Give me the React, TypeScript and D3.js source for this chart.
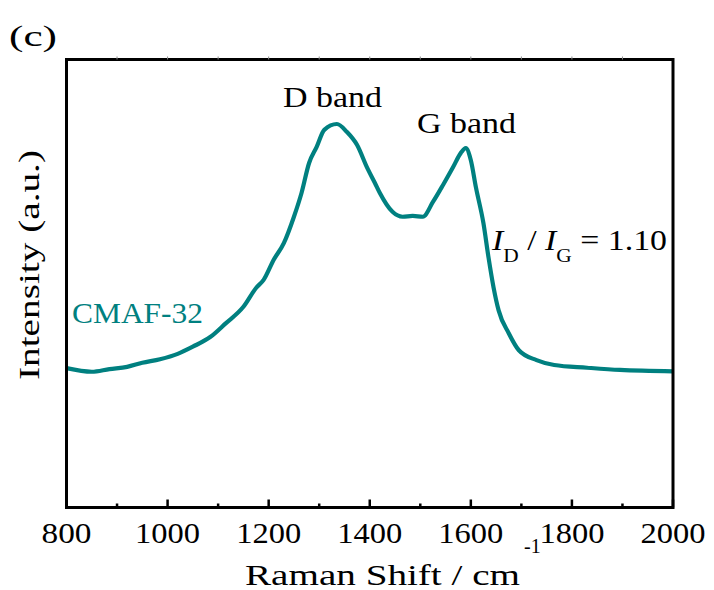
import React from "react";
import * as d3 from "d3";

const ramanShift = [800, 850, 885, 920, 950, 985, 1020, 1050, 1085, 1115, 1150, 1175, 1190, 1210, 1230, 1250, 1265, 1280, 1295, 1310, 1335, 1355, 1375, 1395, 1410, 1420, 1445, 1465, 1485, 1505, 1525, 1545, 1565, 1580, 1590, 1600, 1610, 1625, 1635, 1645, 1655, 1675, 1695, 1730, 1765, 1830, 1895, 2000];
const intensity = [31.1, 30.3, 30.9, 31.4, 32.3, 33.1, 34.3, 35.9, 38.1, 41.1, 44.8, 49.0, 50.8, 55.3, 59.0, 64.9, 70.2, 76.9, 80.5, 84.3, 85.6, 83.8, 80.9, 75.8, 72.5, 70.2, 66.0, 64.9, 65.1, 64.9, 68.2, 72.0, 76.0, 79.1, 80.2, 77.5, 71.5, 63.4, 55.8, 49.1, 44.0, 38.9, 35.1, 32.9, 31.8, 31.2, 30.7, 30.4];
const majorTicks = [800, 1000, 1200, 1400, 1600, 1800, 2000];
const minorTicks = [900, 1100, 1300, 1500, 1700, 1900];
const topTicks = [900, 1000, 1100, 1200, 1300, 1400, 1500, 1600, 1700, 1800, 1900];

const TEAL = "#008080";
const FS = 30; // the serif face renders correctly up to 30px here; widths are matched with textLength

type TxtProps = {
  x: number;
  y: number;
  rotate?: boolean;
  anchor?: "start" | "middle" | "end";
  fill?: string;
  length?: number;
  size?: number;
  children: React.ReactNode;
};

function Txt({ x, y, rotate, anchor, fill, length, size, children }: TxtProps) {
  return (
    <text
      transform={rotate ? `translate(${x},${y}) rotate(-90)` : undefined}
      x={rotate ? 0 : x}
      y={rotate ? 0 : y}
      fontSize={size || FS}
      style={{ fontFamily: "Liberation Serif" }}
      textAnchor={anchor || "start"}
      fill={fill || "#000"}
      textLength={length}
      lengthAdjust={length ? "spacingAndGlyphs" : undefined}
    >
      {children}
    </text>
  );
}

export default function App() {
  const left = 66.5, right = 673, top = 59.5, bottom = 507.5;
  const x = d3.scaleLinear().domain([800, 2000]).range([left, right]);
  const y = d3.scaleLinear().domain([0, 100]).range([bottom, top]);
  const data = ramanShift.map((r, i) => [r, intensity[i]] as [number, number]);
  const line = d3
    .line<[number, number]>()
    .x((d) => x(d[0]))
    .y((d) => y(d[1]))
    .curve(d3.curveMonotoneX);

  return (
    <svg width={714} height={590} style={{ position: "absolute", left: 0, top: 0, background: "#fff" }}>
      <rect x={0} y={0} width={714} height={590} fill="#fff" />
      <path d={line(data) || ""} fill="none" stroke={TEAL} strokeWidth={4.2} strokeLinejoin="round" />
      <rect x={left} y={top} width={right - left} height={bottom - top} fill="none" stroke="#000" strokeWidth={3} />
      {majorTicks.map((t) => (
        <line key={"M" + t} x1={x(t)} x2={x(t)} y1={bottom} y2={bottom - 8} stroke="#000" strokeWidth={2.5} />
      ))}
      {minorTicks.map((t) => (
        <line key={"m" + t} x1={x(t)} x2={x(t)} y1={bottom} y2={bottom - 4} stroke="#000" strokeWidth={2.5} />
      ))}
      {topTicks.map((t) => (
        <line key={"t" + t} x1={x(t)} x2={x(t)} y1={top} y2={top - 3} stroke="#888" strokeWidth={1} />
      ))}
      {majorTicks.map((t) => (
        <Txt key={"L" + t} x={x(t)} y={543} anchor="middle" length={String(t).length === 3 ? 50 : 65}>
          {t}
        </Txt>
      ))}
      <Txt x={245} y={585} length={275}>
        Raman Shift / cm
      </Txt>
      <Txt x={524} y={553} size={20}>
        -1
      </Txt>
      <Txt x={38.5} y={380} rotate length={230}>
        Intensity (a.u.)
      </Txt>
      <Txt x={9} y={46} length={48}>
        (c)
      </Txt>
      <Txt x={283} y={106.7} length={99}>
        D band
      </Txt>
      <Txt x={417} y={133.3} length={99}>
        G band
      </Txt>
      <Txt x={72} y={322.7} fill={TEAL} length={131}>
        CMAF-32
      </Txt>
      <Txt x={492} y={250} length={175}>
        <tspan fontStyle="italic">I</tspan>
        <tspan fontSize={19} dy={12}>D</tspan>
        <tspan dy={-12}>{" / "}</tspan>
        <tspan fontStyle="italic">I</tspan>
        <tspan fontSize={19} dy={12}>G</tspan>
        <tspan dy={-12}>{" = 1.10"}</tspan>
      </Txt>
    </svg>
  );
}
